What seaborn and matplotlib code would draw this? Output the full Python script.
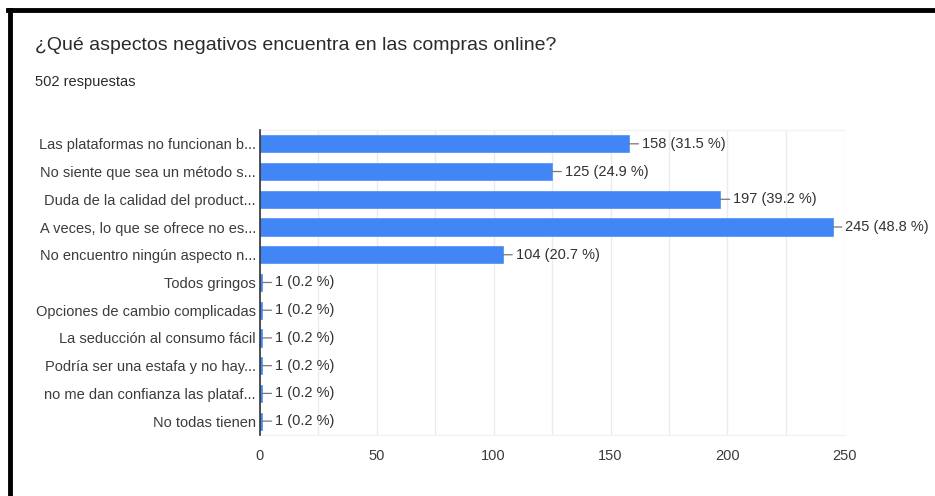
import matplotlib
matplotlib.use("Agg")
import matplotlib.pyplot as plt
import seaborn as sns
import pandas as pd
from matplotlib.lines import Line2D

categorias = [
    "Las plataformas no funcionan b...",
    "No siente que sea un método s...",
    "Duda de la calidad del product...",
    "A veces, lo que se ofrece no es...",
    "No encuentro ningún aspecto n...",
    "Todos gringos",
    "Opciones de cambio complicadas",
    "La seducción al consumo fácil",
    "Podría ser una estafa y no hay...",
    "no me dan confianza las plataf...",
    "No todas tienen",
]
respuestas = [158, 125, 197, 245, 104, 1, 1, 1, 1, 1, 1]
porcentajes = [31.5, 24.9, 39.2, 48.8, 20.7, 0.2, 0.2, 0.2, 0.2, 0.2, 0.2]
total = 502
ticks_x = [0, 50, 100, 150, 200, 250]

df = pd.DataFrame({"categoria": categorias, "respuestas": respuestas})

sns.set_theme(style="white")
plt.rcParams["font.family"] = ["Liberation Sans", "DejaVu Sans"]

fig = plt.figure(figsize=(9.35, 4.96), dpi=100)
ax = fig.add_axes([0.278, 0.123, 0.625, 0.615])

azul = "#4285F4"
sns.barplot(data=df, x="respuestas", y="categoria", orient="h",
            color=azul, saturation=1, width=0.62, ax=ax,
            edgecolor="#5a95f5", linewidth=0.6)

ax.set_xlim(0, 250)
ax.set_xticks(ticks_x)
ax.set_xticks(range(0, 251, 25), minor=True)
ax.grid(axis="x", which="both", color="#ebebeb", linewidth=1.0)
ax.set_axisbelow(True)
ax.spines["right"].set_visible(False)
for side in ["top", "bottom"]:
    ax.spines[side].set_color("#f2f2f2")
    ax.spines[side].set_linewidth(1.0)
ax.spines["left"].set_color("#333333")
ax.spines["left"].set_linewidth(1.2)
ax.spines["left"].set_zorder(5)
ax.tick_params(axis="both", length=0, labelsize=10.5, colors="#3c3c3c")
ax.tick_params(axis="x", pad=10)
ax.tick_params(axis="y", pad=3)
ax.set_xlabel("")
ax.set_ylabel("")

for i, (v, p) in enumerate(zip(respuestas, porcentajes)):
    ax.annotate(f"{v} ({p} %)", xy=(v, i), xytext=(9, 0),
                textcoords="offset points", va="center", ha="left",
                fontsize=10.5, color="#333333",
                arrowprops=dict(arrowstyle="-", color="#777777", lw=0.9,
                                shrinkA=0, shrinkB=0))

fig.text(35 / 935, 1 - 45 / 496, "¿Qué aspectos negativos encuentra en las compras online?",
         fontsize=14, color="#2b2b2b", va="center", ha="left")
fig.text(35 / 935, 1 - 82 / 496, f"{total} respuestas",
         fontsize=10.5, color="#2b2b2b", va="center", ha="left")

# black frame on the top and left edges
fig.add_artist(Line2D([8 / 935, 1.0], [1 - 10 / 496, 1 - 10 / 496],
                      transform=fig.transFigure, color="black", linewidth=3.5,
                      solid_capstyle="projecting"))
fig.add_artist(Line2D([10 / 935, 10 / 935], [1 - 10 / 496, 0.0],
                      transform=fig.transFigure, color="black", linewidth=3.5,
                      solid_capstyle="projecting"))

fig.savefig("out.png", dpi=100, facecolor="white")
